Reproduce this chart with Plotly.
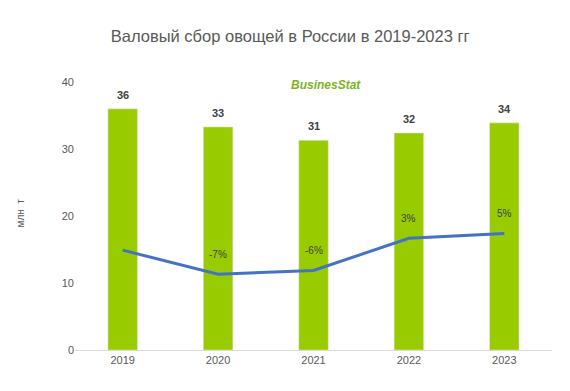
import plotly.graph_objects as go

years = ["2019", "2020", "2021", "2022", "2023"]
harvest = [36.0, 33.3, 31.3, 32.4, 33.9]
bar_labels = ["36", "33", "31", "32", "34"]
growth = [-0.1, -7.2, -6.1, 3.4, 4.8]
growth_labels = ["", "-7%", "-6%", "3%", "5%"]

fig = go.Figure()
fig.add_trace(go.Bar(
    x=years, y=harvest, width=0.31, marker_color="#99CC00", hoverinfo="skip"))
fig.add_trace(go.Scatter(
    x=years, y=growth, yaxis="y2", mode="lines",
    line=dict(color="#4472C4", width=3), hoverinfo="skip"))

# value labels above bars (category index positions)
for i, (v, lab) in enumerate(zip(harvest, bar_labels)):
    fig.add_annotation(x=i, y=v, xref="x", yref="y", text="<b>" + lab + "</b>", showarrow=False,
                       yshift=14, font=dict(family="Liberation Sans", size=11, color="#404040"))

# labels on the growth line
for i, (g, lab) in enumerate(zip(growth, growth_labels)):
    if lab:
        fig.add_annotation(x=i, y=g, xref="x", yref="y2", text=lab, showarrow=False,
                           yshift=20, font=dict(family="Liberation Sans", size=10, color="#404040"))

fig.add_annotation(xref="paper", yref="paper", x=0.526, y=0.99, yanchor="middle",
                   text="<b><i>BusinesStat</i></b>", showarrow=False,
                   font=dict(family="Liberation Sans", size=12, color="#7DB31F"))
fig.add_annotation(xref="paper", yref="paper", x=-0.115, y=0.51, xanchor="center", yanchor="middle",
                   text="млн  т", textangle=-90, showarrow=False,
                   font=dict(family="Liberation Sans", size=10, color="#595959"))

fig.update_layout(
    width=570, height=391, plot_bgcolor="white", paper_bgcolor="white",
    margin=dict(l=67, r=26, t=74, b=49),
    showlegend=False,
    title=dict(text="Валовый сбор овощей в России в 2019-2023 гг", x=0.495, xanchor="center",
               y=0.928, yanchor="middle",
               font=dict(family="Liberation Sans", size=16.5, color="#595959")),
    xaxis=dict(type="category", range=[-0.5, 4.5], showgrid=False, showline=True,
               linecolor="#D9D9D9", linewidth=1,
               tickfont=dict(family="Liberation Sans", size=11, color="#595959")),
    yaxis=dict(range=[0, 40], dtick=10, showgrid=False, zeroline=False, showline=False,
               tickfont=dict(family="Liberation Sans", size=11, color="#595959")),
    yaxis2=dict(range=[-29.45, 49.3], overlaying="y", side="right", showticklabels=False,
                showgrid=False, zeroline=False, showline=False),
)
fig.write_html("out.html")
